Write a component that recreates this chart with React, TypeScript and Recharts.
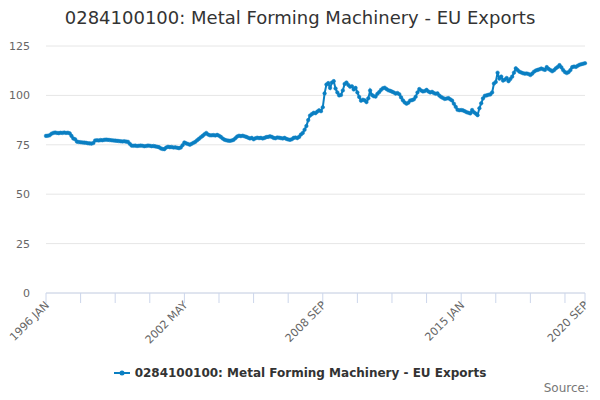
import { LineChart, Line, XAxis, YAxis, CartesianGrid } from "recharts";

const MONTHS = ["JAN", "FEB", "MAR", "APR", "MAY", "JUN", "JUL", "AUG", "SEP", "OCT", "NOV", "DEC"];
const START_YEAR = 1996;

// monthly index values, one row per year (1996 JAN .. 2020 SEP)
const values = [
  79.5, 79.6, 79.8, 80.6, 81.0, 81.2, 81.0, 80.9, 81.1, 81.0, 81.2, 81.0,
  81.1, 80.8, 79.5, 78.2, 77.8, 76.6, 76.4, 76.3, 76.2, 76.1, 76.0, 75.8,
  75.7, 75.6, 75.9, 77.2, 77.3, 77.2, 77.4, 77.3, 77.5, 77.6, 77.5, 77.4,
  77.3, 77.2, 77.1, 77.0, 76.9, 76.8, 76.7, 76.8, 76.6, 76.5, 75.5, 74.6,
  74.5, 74.6, 74.4, 74.5, 74.6, 74.5, 74.3, 74.4, 74.6, 74.5, 74.3, 74.4,
  74.2, 74.0, 73.8, 73.2, 72.9, 72.8, 73.6, 74.0, 73.8, 73.9, 73.6, 73.7,
  73.5, 73.3, 73.6, 74.8, 76.2, 75.7, 75.4, 75.0, 75.5, 76.0, 76.5, 77.3,
  78.0, 78.8, 79.5, 80.3, 81.0, 80.2, 79.8, 79.8, 79.9, 79.7, 80.0, 79.6,
  79.0, 78.2, 77.6, 77.3, 77.1, 77.0, 77.2, 77.5, 78.3, 79.2, 79.6, 79.4,
  79.6, 79.3, 79.0, 78.6, 78.2, 78.5, 77.8, 78.3, 78.6, 78.4, 78.5, 78.2,
  78.5, 78.9, 79.0, 79.3, 79.0, 78.5, 78.3, 78.7, 78.6, 78.4, 78.2, 78.5,
  78.0, 77.7, 77.5, 77.8, 78.5, 78.7, 78.4, 79.0, 80.2, 81.0, 82.6, 84.5,
  87.5, 89.8, 90.5, 91.2, 91.0, 91.8, 92.5, 92.0, 94.0, 101.0, 105.5, 106.2,
  103.8, 106.5, 107.2, 103.5, 101.5, 100.0, 100.2, 102.5, 105.8, 106.5, 105.3, 104.4,
  104.6, 103.0, 103.8, 101.5, 99.2, 97.3, 97.8, 97.5, 96.6, 98.5, 102.5, 100.2,
  99.6, 99.4, 100.8, 101.7, 102.8, 103.6, 103.9, 103.2, 102.6, 102.3, 101.9, 101.5,
  100.9, 101.2, 100.6, 99.0, 97.5, 96.4, 95.8, 96.3, 97.4, 97.6, 98.0, 99.3,
  101.5, 103.2, 102.5, 102.0, 102.2, 102.8, 102.0, 101.5, 101.8, 101.2, 100.8, 101.0,
  99.9, 99.2, 98.7, 98.2, 98.4, 98.6, 98.0, 97.4, 95.8, 94.2, 92.7, 92.5,
  92.6, 92.4, 92.0, 91.5, 91.2, 90.9, 92.6, 91.5, 90.8, 90.0, 93.5, 96.0,
  98.5, 99.8, 100.0, 100.3, 100.5, 101.5, 106.0, 106.8, 111.5, 108.5, 109.5, 107.5,
  108.0, 108.8, 107.2, 108.3, 109.5, 111.5, 113.7, 112.8, 112.0, 111.6, 111.2, 111.0,
  111.1, 110.8, 110.3, 111.0, 112.0, 112.6, 112.9, 113.2, 113.6, 113.2, 112.9, 114.3,
  113.4, 112.8, 112.2, 112.8, 113.7, 114.4, 115.3, 114.2, 112.8, 111.8, 111.3, 111.8,
  112.8, 114.3, 114.6, 114.4, 115.0, 115.5, 115.8, 116.0, 116.3,
];

const yTicks = [0, 25, 50, 75, 100, 125];
const labelledTicks = ["1996 JAN", "2002 MAY", "2008 SEP", "2015 JAN", "2020 SEP"];

const SERIES = "0284100100: Metal Forming Machinery - EU Exports";
const COLOR = "#0a7fc2";
const FONT = '"DejaVu Sans", Verdana, sans-serif';

const data = values.map((v, i) => ({
  month: `${START_YEAR + Math.floor(i / 12)} ${MONTHS[i % 12]}`,
  value: v,
}));

// a tick every 19 months, plus the last month
const xTicks = data.filter((_, i) => i % 19 === 0 || i === data.length - 1).map((d) => d.month);

function XTick(props: any) {
  const { x, y, payload } = props;
  if (!labelledTicks.includes(payload.value)) return <g />;
  return (
    <text
      x={x + 1}
      y={y}
      dy={4}
      transform={`rotate(-45 ${x + 1} ${y})`}
      textAnchor="end"
      fontSize={11}
      fill="#666"
      fontFamily={FONT}
    >
      {payload.value}
    </text>
  );
}

export default function App() {
  return (
    <div style={{ position: "absolute", left: 0, top: 0, width: 600, height: 400, background: "#fff", fontFamily: FONT }}>
      <div style={{ position: "absolute", top: 7, left: 0, width: 600, textAlign: "center", fontSize: 18, lineHeight: "22px", color: "#333" }}>
        {SERIES}
      </div>
      <LineChart width={600} height={400} data={data} margin={{ top: 46, right: 15, bottom: 47, left: 0 }}>
        <CartesianGrid vertical={false} stroke="#e6e6e6" />
        <XAxis
          dataKey="month"
          ticks={xTicks}
          interval={0}
          height={60}
          tickSize={10}
          tickMargin={0}
          axisLine={{ stroke: "#ccd6eb" }}
          tickLine={{ stroke: "#ccd6eb" }}
          tick={<XTick />}
        />
        <YAxis
          domain={[0, 125]}
          ticks={yTicks}
          width={46}
          axisLine={false}
          tickLine={false}
          tickSize={0}
          tickMargin={16}
          tick={{ fontSize: 11, fill: "#666", fontFamily: FONT }}
        />
        <Line
          type="linear"
          dataKey="value"
          stroke={COLOR}
          strokeWidth={2}
          dot={{ r: 1.8, fill: COLOR, stroke: COLOR, strokeWidth: 0.5 }}
          isAnimationActive={false}
        />
      </LineChart>
      <div style={{ position: "absolute", top: 366, left: 0, width: 600, display: "flex", justifyContent: "center", alignItems: "center" }}>
        <svg width={16} height={12} style={{ marginRight: 5 }}>
          <line x1={0} y1={6} x2={16} y2={6} stroke={COLOR} strokeWidth={2} />
          <circle cx={8} cy={6} r={2.5} fill={COLOR} />
        </svg>
        <span style={{ fontSize: 12, fontWeight: "bold", color: "#333" }}>{SERIES}</span>
      </div>
      <div style={{ position: "absolute", top: 381, right: 11, fontSize: 12, color: "#777" }}>Source:</div>
    </div>
  );
}
